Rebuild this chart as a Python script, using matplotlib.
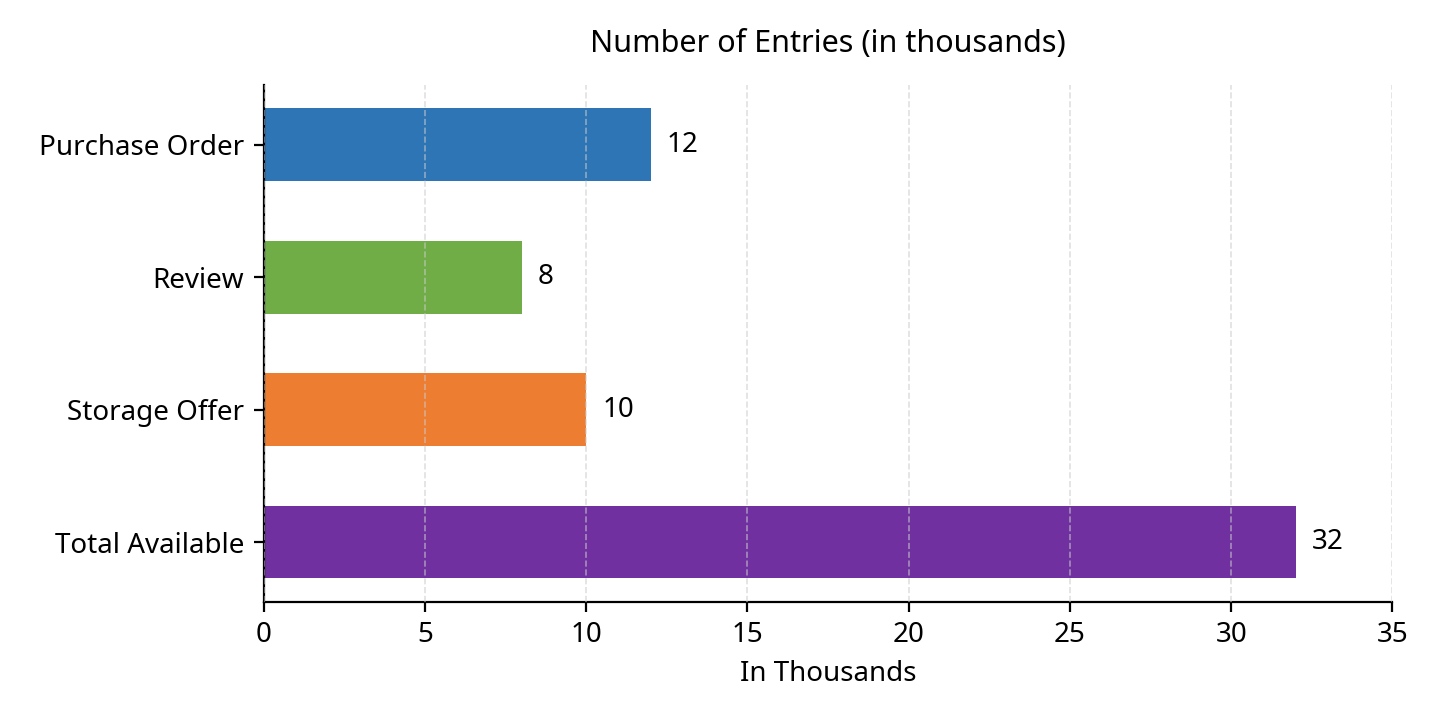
import matplotlib.pyplot as plt

plt.rcParams['font.family'] = ['Noto Sans', 'DejaVu Sans']

categories = ["Total Available", "Storage Offer", "Review", "Purchase Order"]
values = [32, 10, 8, 12]
colors = ["#7030A0", "#ED7D31", "#70AD47", "#2E75B6"]

fig = plt.figure(figsize=(7.2, 3.6), dpi=200)
ax = fig.add_axes([0.183, 0.164, 0.784, 0.718])

ax.barh(categories, values, height=0.55, color=colors, zorder=2)
for i, v in enumerate(values):
    ax.text(v + 0.5, i, str(v), va="center", ha="left", fontsize=10, fontweight="bold")

ax.set_xlim(0, 35)
ax.set_xticks(range(0, 36, 5))
ax.grid(axis="x", linestyle="--", color="#cccccc", alpha=0.6, linewidth=0.6, zorder=3)
ax.set_axisbelow(False)
ax.spines["top"].set_visible(False)
ax.spines["right"].set_visible(False)
ax.tick_params(labelsize=10)
ax.set_xlabel("In Thousands", fontsize=10)
ax.set_title("Number of Entries (in thousands)", fontsize=11, fontweight="bold", pad=12)

fig.savefig("out.png", dpi=200)
